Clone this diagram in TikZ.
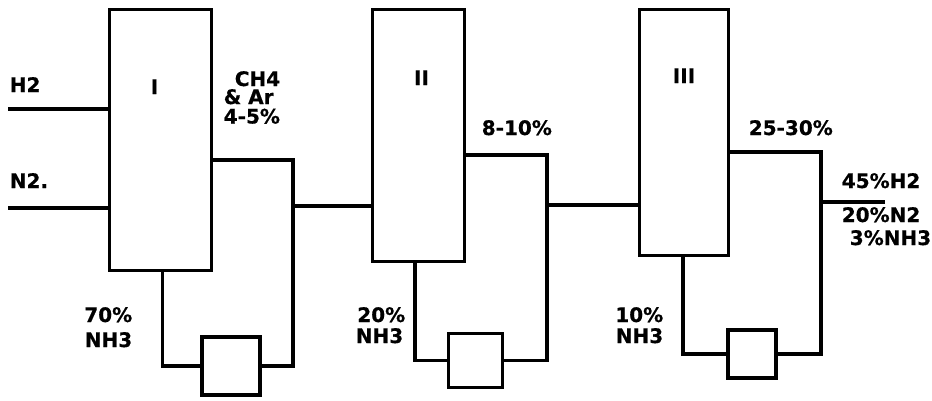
\documentclass[tikz,border=0pt]{standalone}
\usepackage{fontspec}
\setmainfont{DejaVu Sans}[BoldFeatures={FakeBold=0.6}]
\usetikzlibrary{positioning}

\begin{document}
\begin{tikzpicture}[x=1pt, y=-1pt, line width=3.6pt,
  every node/.style={font=\bfseries\fontsize{20}{21}\selectfont, inner sep=0pt,
    text height=14pt, text depth=0pt},
  reactor/.style={draw, rectangle, line width=3.2pt, minimum width=#1},
  sep/.style={draw, rectangle, line width=3.2pt, minimum width=#1, minimum height=#1}]
  \useasboundingbox (0,0) rectangle (932,400);
  % Reactors
  \node[reactor=102, minimum height=261] (r1) at (160.5,140) {};
  \node[reactor=92, minimum height=252] (r2) at (418.5,135.5) {};
  \node[reactor=89, minimum height=246] (r3) at (684,132.5) {};
  % Separators under the reactors
  \node[sep=58] (s1) at (231,366) {};
  \node[sep=54] (s2) at (475.5,360.5) {};
  \node[sep=48] (s3) at (752,354) {};
  % Junction points
  \coordinate (h2) at (8,109);
  \coordinate (n2) at (8,208);
  \coordinate (t1) at (293,160);
  \coordinate (t2) at (547,155);
  \coordinate (t3) at (821,152);
  \coordinate (m1) at (293,206);
  \coordinate (m2) at (547,205);
  \coordinate (m3) at (821,202);
  \coordinate (out) at (885,202);
  % Feed lines
  \draw (h2) -- (r1.west |- h2);
  \draw (n2) -- (r1.west |- n2);
  % Gas loops
  \draw (r1.east |- t1) -- (t1) -- (t1 |- s1.east) -- (s1.east);
  \draw (r2.east |- t2) -- (t2) -- (t2 |- s2.east) -- (s2.east);
  \draw (r3.east |- t3) -- (t3) -- (t3 |- s3.east) -- (s3.east);
  % Liquid legs
  \draw ([xshift=2pt]r1.south) -- ([xshift=2pt]r1.south |- s1.west) -- (s1.west);
  \draw ([xshift=-3.5pt]r2.south) -- ([xshift=-3.5pt]r2.south |- s2.west) -- (s2.west);
  \draw ([xshift=-1pt]r3.south) -- ([xshift=-1pt]r3.south |- s3.west) -- (s3.west);
  % Links between stages
  \draw (m1) -- (r2.west |- m1);
  \draw (m2) -- (r3.west |- m2);
  \draw (m3) -- (out);
  % Labels
  \node[anchor=base west] (lh2) at (8,92) {H2};
  \node[anchor=base west] (ln2) at (8,188) {N2.};
  \node[anchor=base] (l1) at (154.5,94) {I};
  \node[anchor=base] (l2) at (421.5,85) {II};
  \node[anchor=base] (l3) at (684,83) {III};
  \node[anchor=base west] (lch4) at (233,86) {CH4};
  \node[anchor=base west] (lar) at (222,104) {\& Ar};
  \node[anchor=base west] (lp1) at (222,123.5) {4-5\%};
  \node[anchor=base west] (lp2) at (480,135) {8-10\%};
  \node[anchor=base west] (lp3) at (747,135) {25-30\%};
  \node[anchor=base west] (lo1) at (840,188) {45\%H2};
  \node[anchor=base west] (lo2) at (840,222) {20\%N2};
  \node[anchor=base west] (lo3) at (848,245) {3\%NH3};
  \node[anchor=base east] (la1) at (134,322) {70\%};
  \node[anchor=base east] (lb1) at (134,347) {NH3};
  \node[anchor=base east] (la2) at (407,322) {20\%};
  \node[anchor=base east] (lb2) at (405,343) {NH3};
  \node[anchor=base east] (la3) at (665,322) {10\%};
  \node[anchor=base east] (lb3) at (665,343) {NH3};
\end{tikzpicture}
\end{document}
